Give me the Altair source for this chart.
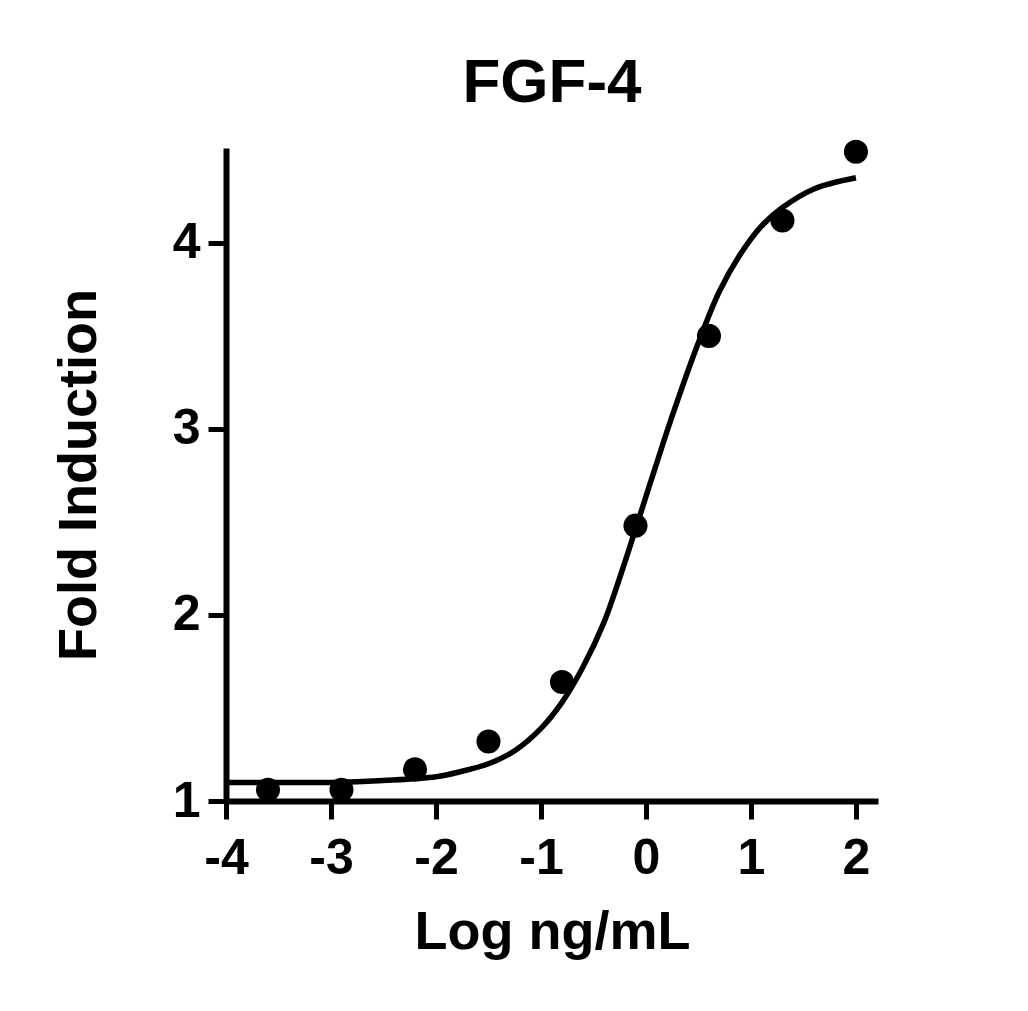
import altair as alt
import pandas as pd

# Measured dose-response points (log ng/mL vs fold induction)
dose_log = [-3.6, -2.9, -2.2, -1.5, -0.8, -0.1, 0.6, 1.3, 2.0]
fold = [1.06, 1.06, 1.17, 1.32, 1.64, 2.48, 3.50, 4.12, 4.49]

# Fitted curve
curve_x = [-4.0, -3.5, -3.0, -2.5, -2.0, -1.75, -1.5, -1.25, -1.0, -0.8, -0.6,
           -0.4, -0.25, -0.1, 0.07, 0.25, 0.49, 0.7, 0.9, 1.1, 1.3, 1.6, 2.0]
curve_y = [1.10, 1.10, 1.10, 1.11, 1.13, 1.16, 1.20, 1.27, 1.39, 1.53, 1.72,
           1.96, 2.20, 2.46, 2.76, 3.07, 3.45, 3.74, 3.94, 4.09, 4.19, 4.29, 4.35]

FONT = 'Liberation Sans'

points_df = pd.DataFrame({'x': dose_log, 'y': fold})
curve_df = pd.DataFrame({'x': curve_x, 'y': curve_y})

x_scale = alt.Scale(domain=[-4, 2.21], nice=False, zero=False)
y_scale = alt.Scale(domain=[1, 4.51], nice=False, zero=False)

x_axis = alt.Axis(title='Log ng/mL', values=[-4, -3, -2, -1, 0, 1, 2],
                  labelExpr="'' + datum.value", grid=False,
                  labelPadding=14, titlePadding=22)
y_axis = alt.Axis(title='Fold Induction', values=[1, 2, 3, 4],
                  labelExpr="'' + datum.value", grid=False,
                  labelPadding=8, titlePadding=66)

curve = alt.Chart(curve_df).mark_line(
    color='black', strokeWidth=5.5, interpolate='catmull-rom'
).encode(
    x=alt.X('x:Q', scale=x_scale, axis=x_axis),
    y=alt.Y('y:Q', scale=y_scale, axis=y_axis)
)

dots = alt.Chart(points_df).mark_circle(
    color='black', size=580, opacity=1
).encode(
    x=alt.X('x:Q', scale=x_scale),
    y=alt.Y('y:Q', scale=y_scale)
)

chart = alt.layer(curve, dots).properties(
    width=652,
    height=653,
    title=alt.TitleParams('FGF-4', fontSize=62, font=FONT, fontWeight='bold',
                          anchor='middle', offset=25, color='black'),
    autosize=alt.AutoSizeParams(type='none'),
    padding={'left': 218, 'top': 140, 'right': 120, 'bottom': 180}
).configure_view(
    stroke=None
).configure_axis(
    domainColor='black', domainWidth=6,
    tickColor='black', tickWidth=5, tickSize=18,
    labelFont=FONT, labelFontSize=50, labelFontWeight='bold', labelColor='black',
    labelFlush=False, labelOverlap=False,
    titleFont=FONT, titleFontSize=54, titleFontWeight='bold', titleColor='black'
)

chart.save("out.html", embed_options={"renderer": "svg", "actions": False})
